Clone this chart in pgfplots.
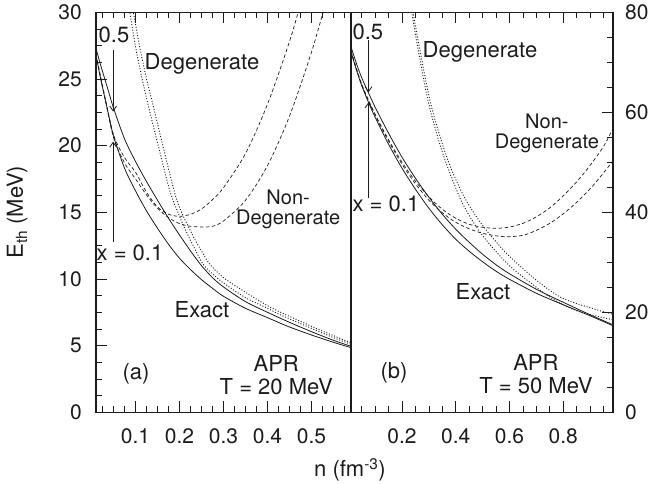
\documentclass[border=0pt]{standalone}
\usepackage{fontspec}
\setmainfont{TeX Gyre Heros}
\usepackage{pgfplots}
\pgfplotsset{compat=1.18}
\usetikzlibrary{arrows.meta}
\definecolor{ink}{HTML}{1C1C1C}
\tikzset{arr/.style={draw=ink, line width=0.8bp, -{Straight Barb[length=5bp,width=7bp]}}}
\begin{document}
\begin{tikzpicture}[font=\fontsize{22bp}{25bp}\selectfont, text=ink]
\path[use as bounding box] (-96bp,-71.7bp) rectangle (563bp,412.3bp);
\pgfplotsset{
  panel/.style={
    scale only axis, height=400bp, ymin=0,
    axis line style={line width=1.2bp, draw=ink},
    tick align=inside,
    major tick length=11bp, minor tick length=6bp,
    tick style={draw=ink, line width=0.8bp},
    xtick pos=both, xticklabel pos=lower,
    /pgf/number format/assume math mode=true,
    ticklabel style={font=\fontsize{21bp}{25bp}\selectfont, text=ink},
    xticklabel style={anchor=north, inner sep=0pt, yshift=-16bp},
  },
  exact/.style={draw=ink, line width=0.8bp, smooth},
  deg/.style={draw=ink, line width=0.9bp, smooth, dash pattern=on 1bp off 1.8bp},
  nd/.style={draw=ink, line width=0.7bp, smooth, dash pattern=on 3.5bp off 2.5bp},
}
% ---------------- panel (a) ----------------
\begin{axis}[panel, at={(0,0)}, anchor=south west, width=255bp,
  xmin=0.01, xmax=0.59, ymax=30,
  xtick={0.1,0.2,0.3,0.4,0.5}, minor xtick={0.025,0.05,...,0.58},
  ytick={0,5,...,30}, minor ytick={1.25,2.5,...,29},
  ytick pos=left, yticklabel pos=left,
  yticklabel style={anchor=east, inner sep=0pt, xshift=-14bp}]
% exact x=0.5
\addplot[exact] coordinates {(0.01,27.3) (0.02,26.1) (0.03,25.0) (0.04,23.9) (0.05,22.8) (0.075,20.5) (0.1,18.8) (0.125,17.3) (0.15,15.9) (0.175,14.55) (0.2,13.3) (0.225,12.1) (0.25,11.0) (0.275,10.1) (0.3,9.4) (0.35,8.3) (0.4,7.5) (0.45,6.75) (0.5,6.05) (0.55,5.4) (0.59,4.95)};
% exact x=0.1
\addplot[exact] coordinates {(0.01,26.8) (0.02,25.1) (0.03,23.6) (0.04,22.1) (0.05,20.7) (0.075,18.3) (0.1,16.6) (0.125,15.1) (0.15,13.8) (0.175,12.6) (0.2,11.55) (0.225,10.7) (0.25,9.95) (0.275,9.3) (0.3,8.7) (0.35,7.8) (0.4,7.1) (0.45,6.4) (0.5,5.8) (0.55,5.25) (0.59,4.85)};
% degenerate
\addplot[deg] coordinates {(0.08,31.6) (0.087,30) (0.1,27.4) (0.115,25.0) (0.129,23.0) (0.15,20.2) (0.178,16.6) (0.2,14.7) (0.216,13.5) (0.25,11.3) (0.269,10.55) (0.285,10.1) (0.3,9.7) (0.35,8.6) (0.4,7.8) (0.43,7.3) (0.5,6.3) (0.55,5.6) (0.59,5.1)};
\addplot[deg] coordinates {(0.088,31.6) (0.095,30) (0.11,27.3) (0.125,25.0) (0.14,23.0) (0.165,19.6) (0.195,15.8) (0.228,13.4) (0.25,12.1) (0.269,11.1) (0.3,10.1) (0.35,9.0) (0.4,8.0) (0.43,7.5) (0.5,6.45) (0.55,5.75) (0.59,5.2)};
% non-degenerate
\addplot[nd] coordinates {(0.01,26.85) (0.03,23.7) (0.05,20.8) (0.075,19.1) (0.1,18.0) (0.125,16.5) (0.15,15.4) (0.175,14.85) (0.2,14.7) (0.225,14.85) (0.25,15.25) (0.275,15.95) (0.3,16.85) (0.35,19.4) (0.4,23.1) (0.45,27.8) (0.48,31.2)};
\addplot[nd] coordinates {(0.01,26.8) (0.03,23.6) (0.05,20.6) (0.075,18.7) (0.1,17.5) (0.125,16.3) (0.15,15.3) (0.175,14.6) (0.2,14.15) (0.225,13.95) (0.25,13.9) (0.275,13.95) (0.3,14.35) (0.35,15.9) (0.4,18.5) (0.45,22.2) (0.5,27.0) (0.535,31.0)};
\draw[arr] (axis cs:0.049,27.2) -- (axis cs:0.049,22.55);
\draw[arr] (axis cs:0.049,12.8) -- (axis cs:0.049,20.3);
\node at (axis cs:0.051,28.3) {0.5};
\node at (axis cs:0.251,26.1) {Degenerate};
\node[align=center, font=\fontsize{20bp}{20bp}\selectfont] at (axis cs:0.447,15.2) {Non-\\Degenerate};
\node at (axis cs:0.0873,11.95) {x = 0.1};
\node at (axis cs:0.251,7.67) {Exact};
\node at (axis cs:0.101,2.87) {(a)};
\node[align=center, font=\fontsize{22bp}{23bp}\selectfont] at (axis cs:0.42,2.8) {APR\\T = 20 MeV};
\end{axis}
% ---------------- panel (b) ----------------
\begin{axis}[panel, at={(255bp,0)}, anchor=south west, width=262bp,
  xmin=0.01, xmax=0.985, ymax=80,
  xtick={0.2,0.4,0.6,0.8}, minor xtick={0.05,0.1,...,0.96},
  ytick={0,20,...,80}, minor ytick={5,10,...,75},
  ytick pos=right, yticklabel pos=right,
  yticklabel style={anchor=west, inner sep=0pt, xshift=12bp}]
\addplot[exact] coordinates {(0.01,73.1) (0.03,69.8) (0.05,66.9) (0.075,63.9) (0.1,61.0) (0.15,55.8) (0.2,51.0) (0.25,46.8) (0.3,43.0) (0.35,39.6) (0.4,36.6) (0.45,34.0) (0.5,31.6) (0.55,29.5) (0.6,27.7) (0.7,24.6) (0.8,22.0) (0.9,19.5) (0.985,17.5)};
\addplot[exact] coordinates {(0.01,72.1) (0.03,68.5) (0.05,65.3) (0.075,62.0) (0.1,59.0) (0.15,53.6) (0.2,48.8) (0.25,44.6) (0.3,40.8) (0.35,37.5) (0.4,34.6) (0.45,32.2) (0.5,30.1) (0.55,28.2) (0.6,26.6) (0.7,23.8) (0.8,21.5) (0.9,19.3) (0.985,17.3)};
\addplot[deg] coordinates {(0.225,84) (0.236,80) (0.26,72.5) (0.298,62) (0.35,52) (0.416,42.8) (0.47,37.6) (0.52,34.0) (0.6,29.3) (0.7,25.0) (0.757,22.8) (0.85,20.3) (0.985,18.5)};
\addplot[deg] coordinates {(0.23,84) (0.241,80) (0.268,72) (0.31,61) (0.37,50.5) (0.43,43.2) (0.49,38.1) (0.545,34.4) (0.6,31.2) (0.7,26.4) (0.794,22.9) (0.9,20.9) (0.985,19.6)};
\addplot[nd] coordinates {(0.01,72.3) (0.05,65.6) (0.1,59.6) (0.15,54.5) (0.2,50.0) (0.25,46.2) (0.3,43.1) (0.35,40.6) (0.4,38.8) (0.45,37.6) (0.5,37.0) (0.552,36.8) (0.6,37.05) (0.65,37.8) (0.7,39.1) (0.75,40.9) (0.8,43.3) (0.85,46.1) (0.9,49.4) (0.95,53.2) (0.985,56.8)};
\addplot[nd] coordinates {(0.01,72.2) (0.05,65.5) (0.1,59.4) (0.15,54.2) (0.2,49.6) (0.25,45.7) (0.3,42.4) (0.35,39.9) (0.4,38.0) (0.45,36.7) (0.5,35.8) (0.55,35.3) (0.59,35.1) (0.65,35.4) (0.7,36.4) (0.75,37.8) (0.8,39.7) (0.85,42.0) (0.9,44.7) (0.95,47.9) (0.985,50.3)};
\draw[arr] (axis cs:0.075,74.5) -- (axis cs:0.075,64);
\draw[arr] (axis cs:0.075,42.9) -- (axis cs:0.075,62);
\node at (axis cs:0.073,76.1) {0.5};
\node at (axis cs:0.49,72.1) {Degenerate};
\node[align=center, font=\fontsize{20bp}{20bp}\selectfont] at (axis cs:0.739,55.7) {Non-\\Degenerate};
\node at (axis cs:0.140,41.7) {x = 0.1};
\node at (axis cs:0.501,24.1) {Exact};
\node at (axis cs:0.170,7.9) {(b)};
\node[align=center, font=\fontsize{22bp}{23bp}\selectfont] at (axis cs:0.698,7.7) {APR\\T = 50 MeV};
\end{axis}
\node[rotate=90, anchor=base] at (-73bp,200bp) {E\textsubscript{th} (MeV)};
\node[anchor=base] at (254bp,-64.4bp) {n (fm\textsuperscript{-3})};
\end{tikzpicture}
\end{document}
